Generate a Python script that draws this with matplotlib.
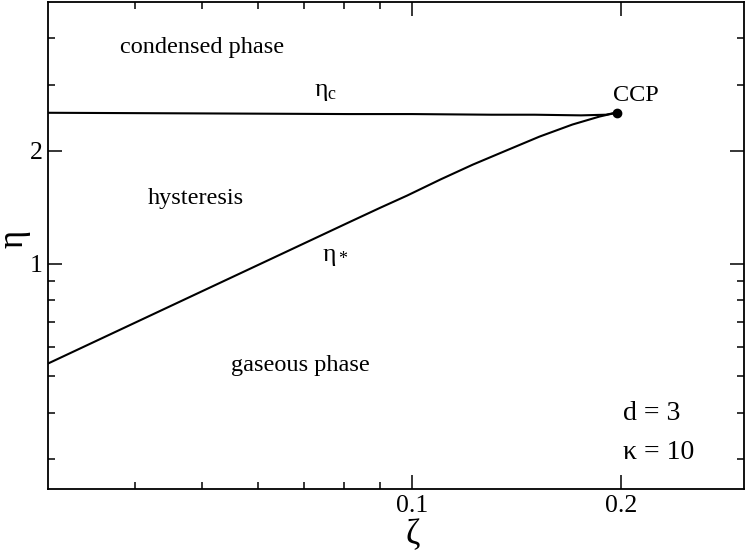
import matplotlib
matplotlib.use("Agg")
import matplotlib.pyplot as plt

plt.rcParams['font.family'] = ['Liberation Serif', 'DejaVu Serif']
plt.rcParams['mathtext.fontset'] = 'custom'
plt.rcParams['mathtext.rm'] = 'Liberation Serif'
plt.rcParams['mathtext.it'] = 'Liberation Serif'

# eta_c line (condensation)
zeta_c = [0.03, 0.05, 0.081, 0.1, 0.13, 0.15, 0.175, 0.19, 0.197]
eta_c = [2.53, 2.52, 2.51, 2.51, 2.50, 2.50, 2.49, 2.50, 2.533]

# eta_* line (hysteresis boundary)
zeta_s = [0.03, 0.0494, 0.065, 0.081, 0.09, 0.0984, 0.11, 0.1223, 0.137, 0.1525, 0.170, 0.186, 0.197]
eta_s = [0.541, 0.836, 1.062, 1.287, 1.41, 1.52, 1.68, 1.839, 2.01, 2.185, 2.353, 2.472, 2.533]

# critical point
ccp_zeta = 0.197
ccp_eta = 2.533

fig = plt.figure(figsize=(7.47, 5.51), dpi=100)
ax = fig.add_axes([0.0643, 0.1125, 0.9317, 0.8838])

ax.plot(zeta_c, eta_c, color='black', lw=1.5)
ax.plot(zeta_s, eta_s, color='black', lw=1.5)
ax.plot([ccp_zeta], [ccp_eta], 'o', color='black', markersize=6)

ax.set_xscale('log')
ax.set_yscale('log')
ax.set_xlim(0.03, 0.3)
ax.set_ylim(0.25, 5)

ax.set_xticks([0.1, 0.2])
ax.set_xticklabels(['0.1', '0.2'], fontsize=18.5)
ax.set_xticks([0.04, 0.05, 0.06, 0.07, 0.08, 0.09], minor=True)
ax.set_xticklabels([], minor=True)
ax.set_yticks([1, 2])
ax.set_yticklabels(['1', '2'], fontsize=18.5)
ax.set_yticks([0.3, 0.4, 0.5, 0.6, 0.7, 0.8, 0.9, 3, 4], minor=True)
ax.set_yticklabels([], minor=True)

ax.tick_params(which='both', direction='in', top=True, right=True, width=1.1)
ax.tick_params(which='major', length=10, pad=4)
ax.tick_params(which='minor', length=5)
for sp in ax.spines.values():
    sp.set_linewidth(1.3)

# axis labels
fig.text(0.553, 0.03, r'$\zeta$', fontsize=25, ha='center', va='center')
fig.text(0.022, 0.565, r'$\eta$', fontsize=25, ha='center', va='center', rotation=90)

fs = 17.5
ax.text(0.0499, 3.78, 'condensed phase', fontsize=fs, ha='center', va='center')
ax.text(0.075, 2.87, r'$\eta_\mathrm{c}$', fontsize=fs + 1, ha='center', va='center')
ax.text(0.21, 2.81, 'CCP', fontsize=fs, ha='center', va='center')
ax.text(0.0489, 1.49, 'hysteresis', fontsize=fs, ha='center', va='center')
ax.text(0.0776, 1.04, r'$\eta_*$', fontsize=fs + 1, ha='center', va='center')
ax.text(0.0691, 0.533, 'gaseous phase', fontsize=fs, ha='center', va='center')
ax.text(0.826, 0.156, 'd = 3', fontsize=20, ha='left', va='center', transform=ax.transAxes)
ax.text(0.826, 0.074, 'κ = 10', fontsize=20, ha='left', va='center', transform=ax.transAxes)

fig.savefig('out.png', dpi=100)
